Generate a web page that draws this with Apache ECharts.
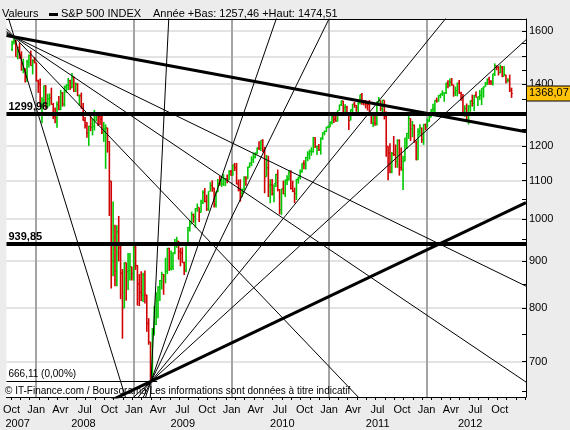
<!DOCTYPE html>
<html>
<head>
<meta charset="utf-8">
<script src="https://cdn.jsdelivr.net/npm/echarts@6/dist/echarts.min.js"></script>
<style>
  html, body { margin: 0; padding: 0; background: #ececec; }
  #chart { width: 570px; height: 430px; }
</style>
</head>
<body>
<div id="chart"></div>
<script>
// weekly bars [open, high, low, close], first week starts 2007-10-01
const firstWeek = [2007, 9, 1];
const ohlc2007 = [
  [1527, 1561, 1521, 1557], [1557, 1576, 1546, 1561], [1561, 1564, 1500, 1500], [1500, 1536, 1490, 1535],
  [1536, 1552, 1492, 1509], [1505, 1520, 1448, 1453], [1453, 1492, 1439, 1458], [1456, 1456, 1406, 1440],
  [1440, 1488, 1408, 1481], [1479, 1508, 1460, 1504], [1505, 1523, 1467, 1467], [1465, 1490, 1435, 1484],
  [1484, 1498, 1475, 1478], [1476, 1476, 1411, 1411]
];
const ohlc2008 = [
  [1411, 1416, 1370, 1401], [1401, 1420, 1325, 1325], [1325, 1355, 1270, 1330], [1330, 1396, 1322, 1395],
  [1395, 1396, 1317, 1331], [1331, 1367, 1320, 1349], [1349, 1368, 1325, 1353], [1353, 1388, 1330, 1331],
  [1331, 1336, 1283, 1293], [1293, 1321, 1270, 1288], [1288, 1341, 1256, 1330], [1330, 1359, 1312, 1315],
  [1316, 1380, 1312, 1370], [1370, 1373, 1324, 1332], [1332, 1395, 1324, 1390], [1390, 1400, 1370, 1397],
  [1397, 1422, 1380, 1413], [1413, 1416, 1380, 1388], [1388, 1440, 1386, 1425], [1425, 1427, 1373, 1375],
  [1375, 1406, 1373, 1400], [1400, 1404, 1359, 1360], [1360, 1365, 1327, 1360], [1360, 1371, 1317, 1318],
  [1318, 1336, 1278, 1278], [1278, 1290, 1253, 1262], [1262, 1274, 1225, 1239], [1239, 1262, 1200, 1260],
  [1260, 1292, 1245, 1257], [1257, 1284, 1232, 1260], [1260, 1313, 1247, 1296], [1296, 1304, 1276, 1298],
  [1298, 1300, 1261, 1292], [1292, 1300, 1264, 1283], [1283, 1304, 1236, 1242], [1242, 1274, 1212, 1252],
  [1252, 1266, 1133, 1255], [1255, 1256, 1180, 1213], [1213, 1214, 1007, 1099], [1099, 1099, 840, 899],
  [900, 1044, 866, 940], [940, 985, 845, 877], [877, 984, 845, 968], [968, 1007, 899, 930],
  [930, 937, 818, 873], [873, 882, 741, 800], [800, 897, 800, 896], [896, 896, 815, 876],
  [876, 918, 837, 879], [879, 918, 857, 887], [887, 887, 857, 872], [872, 935, 857, 931]
];
const ohlc2009 = [
  [931, 943, 880, 890], [890, 891, 805, 850], [850, 871, 804, 832], [832, 877, 814, 826],
  [826, 874, 812, 869], [869, 879, 809, 827], [827, 827, 754, 770], [770, 780, 730, 735],
  [735, 735, 666, 683], [683, 761, 672, 756], [756, 804, 747, 768], [768, 832, 767, 815],
  [815, 845, 780, 843], [843, 858, 814, 857], [857, 876, 838, 870], [870, 871, 827, 866],
  [866, 907, 851, 877], [877, 930, 871, 929], [929, 930, 878, 883], [883, 924, 879, 887],
  [887, 920, 880, 919], [919, 951, 915, 940], [940, 956, 930, 946], [946, 946, 903, 921],
  [921, 930, 888, 918], [918, 931, 896, 896], [896, 898, 869, 879], [879, 943, 875, 940],
  [940, 980, 940, 979], [979, 996, 969, 987], [987, 1018, 987, 1010], [1010, 1013, 990, 1005],
  [1005, 1027, 978, 1026], [1026, 1039, 1018, 1029], [1029, 1029, 992, 1016], [1016, 1049, 1016, 1042],
  [1042, 1074, 1038, 1068], [1068, 1080, 1042, 1044], [1044, 1062, 1020, 1025], [1025, 1071, 1020, 1071],
  [1071, 1096, 1071, 1087], [1087, 1101, 1070, 1080], [1080, 1081, 1029, 1036], [1036, 1071, 1029, 1069],
  [1069, 1105, 1069, 1093], [1093, 1113, 1086, 1091], [1091, 1112, 1083, 1091], [1091, 1119, 1086, 1106],
  [1106, 1107, 1085, 1106], [1106, 1117, 1093, 1102], [1102, 1129, 1102, 1126], [1126, 1130, 1114, 1115]
];
const ohlc2010 = [
  [1116, 1145, 1114, 1144], [1144, 1150, 1127, 1136], [1136, 1150, 1090, 1091], [1091, 1103, 1071, 1074],
  [1074, 1104, 1044, 1066], [1066, 1079, 1056, 1075], [1075, 1112, 1075, 1109], [1109, 1112, 1086, 1104],
  [1105, 1139, 1105, 1138], [1138, 1151, 1136, 1150], [1150, 1169, 1141, 1159], [1159, 1180, 1150, 1167],
  [1167, 1181, 1163, 1178], [1178, 1195, 1175, 1194], [1194, 1214, 1188, 1192], [1192, 1217, 1185, 1217],
  [1217, 1220, 1181, 1187], [1188, 1197, 1066, 1111], [1111, 1173, 1111, 1136], [1136, 1171, 1056, 1087],
  [1087, 1104, 1040, 1089], [1089, 1105, 1060, 1065], [1065, 1090, 1042, 1092], [1092, 1119, 1083, 1117],
  [1117, 1131, 1071, 1076], [1076, 1077, 1011, 1023], [1023, 1078, 1010, 1078], [1078, 1100, 1063, 1065],
  [1065, 1103, 1056, 1102], [1102, 1115, 1088, 1102], [1102, 1130, 1101, 1122], [1122, 1129, 1076, 1079],
  [1079, 1100, 1069, 1071], [1071, 1081, 1040, 1065], [1065, 1105, 1048, 1104], [1104, 1111, 1092, 1110],
  [1110, 1131, 1103, 1125], [1125, 1149, 1122, 1149], [1149, 1158, 1132, 1146], [1146, 1167, 1131, 1166],
  [1166, 1184, 1155, 1176], [1176, 1189, 1160, 1183], [1183, 1196, 1171, 1183], [1183, 1227, 1180, 1225],
  [1225, 1226, 1194, 1199], [1199, 1200, 1173, 1199], [1199, 1206, 1185, 1189], [1189, 1225, 1174, 1224],
  [1224, 1241, 1218, 1240], [1240, 1247, 1232, 1244], [1244, 1259, 1242, 1257], [1257, 1263, 1254, 1258]
];
const ohlc2011 = [
  [1258, 1276, 1257, 1272], [1272, 1293, 1266, 1293], [1293, 1296, 1271, 1283], [1283, 1302, 1275, 1276],
  [1276, 1311, 1276, 1311], [1311, 1330, 1311, 1330], [1330, 1344, 1326, 1343], [1343, 1343, 1294, 1320],
  [1320, 1332, 1302, 1321], [1321, 1327, 1294, 1304], [1304, 1304, 1249, 1279], [1279, 1315, 1279, 1313],
  [1313, 1333, 1302, 1332], [1332, 1340, 1320, 1328], [1328, 1329, 1307, 1320], [1320, 1338, 1295, 1337],
  [1337, 1364, 1331, 1364], [1364, 1370, 1330, 1340], [1340, 1346, 1328, 1338], [1338, 1346, 1318, 1333],
  [1333, 1334, 1311, 1331], [1331, 1346, 1296, 1300], [1300, 1304, 1268, 1271], [1271, 1295, 1258, 1271],
  [1271, 1298, 1262, 1268], [1268, 1341, 1263, 1340], [1340, 1356, 1333, 1344], [1344, 1344, 1309, 1316],
  [1316, 1347, 1295, 1345], [1345, 1345, 1282, 1292], [1292, 1308, 1168, 1199], [1199, 1199, 1101, 1179],
  [1179, 1208, 1121, 1124], [1124, 1182, 1121, 1177], [1177, 1230, 1170, 1174], [1174, 1204, 1136, 1154],
  [1154, 1220, 1136, 1216], [1216, 1220, 1114, 1136], [1136, 1195, 1128, 1131], [1131, 1171, 1075, 1155],
  [1155, 1224, 1155, 1224], [1224, 1239, 1191, 1238], [1238, 1293, 1221, 1285], [1285, 1285, 1215, 1253],
  [1253, 1277, 1226, 1263], [1263, 1266, 1209, 1216], [1216, 1216, 1158, 1159], [1159, 1254, 1159, 1244],
  [1244, 1267, 1231, 1255], [1255, 1256, 1209, 1219], [1219, 1268, 1203, 1265], [1265, 1269, 1248, 1258]
];
const ohlc2012 = [
  [1258, 1285, 1258, 1278], [1278, 1297, 1274, 1289], [1289, 1315, 1289, 1315], [1315, 1333, 1306, 1316],
  [1316, 1345, 1300, 1345], [1345, 1354, 1337, 1342], [1342, 1363, 1340, 1361], [1361, 1368, 1352, 1366],
  [1366, 1379, 1360, 1370], [1370, 1371, 1340, 1370], [1370, 1405, 1366, 1404], [1404, 1414, 1386, 1397],
  [1397, 1420, 1391, 1408], [1408, 1422, 1395, 1398], [1398, 1398, 1357, 1370], [1370, 1392, 1359, 1378],
  [1378, 1406, 1358, 1403], [1403, 1415, 1367, 1369], [1369, 1374, 1343, 1353], [1353, 1366, 1292, 1295],
  [1295, 1328, 1291, 1317], [1317, 1334, 1278, 1278], [1278, 1329, 1266, 1325], [1325, 1345, 1307, 1343],
  [1343, 1364, 1324, 1335], [1335, 1363, 1309, 1362], [1362, 1375, 1354, 1354], [1354, 1357, 1326, 1357],
  [1357, 1380, 1346, 1362], [1362, 1386, 1329, 1386], [1386, 1392, 1354, 1391], [1391, 1407, 1391, 1405],
  [1405, 1420, 1397, 1418], [1418, 1426, 1398, 1411], [1411, 1414, 1397, 1407], [1407, 1437, 1396, 1438],
  [1438, 1475, 1429, 1466], [1466, 1467, 1450, 1460], [1460, 1465, 1431, 1441], [1441, 1470, 1439, 1461],
  [1461, 1465, 1425, 1428], [1428, 1465, 1428, 1433], [1433, 1434, 1403, 1411], [1411, 1421, 1406, 1414],
  [1414, 1434, 1373, 1380], [1380, 1388, 1353, 1368.07]
];

// pivots and fan lines (second point each line passes through)
const highPivot = ['2007-10-11', 1576.09];
const lowPivot = ['2009-03-06', 666.11];
const highThickTo = ['2012-12-31', 1244];
const highFanTo = [['2012-12-31', 847], ['2012-12-31', 667], ['2010-12-14', 700], ['2008-10-20', 700]];
const lowThickTo = ['2012-12-31', 1039];
const lowFanTo = [['2012-12-31', 1558], ['2012-02-04', 1600], ['2010-12-10', 1600], ['2010-06-02', 1600], ['2009-05-09', 1600]];

const levelValues = [1299.96, 939.85];
const levelLabels = ['1299,96', '939,85'];
const lowLevel = 666.11;
const lowLevelEnd = '2009-03-29';
const lastPrice = 1368.07;
const lastLabel = '1368,07';

// axis ticks and labels
const xRange = ['2007-09-12', '2013-01-07'];
const yRange = [640.5, 1648];
const quarterLabels = { 0: 'Jan', 3: 'Avr', 6: 'Jul', 9: 'Oct' };
const quarterStarts = ['2007-10-01', '2008-01-01', '2008-04-01', '2008-07-01', '2008-10-01', '2009-01-01', '2009-04-01',
  '2009-07-01', '2009-10-01', '2010-01-01', '2010-04-01', '2010-07-01', '2010-10-01', '2011-01-01', '2011-04-01',
  '2011-07-01', '2011-10-01', '2012-01-01', '2012-04-01', '2012-07-01', '2012-10-01'];
const yearStarts = ['2008-01-01', '2009-01-01', '2010-01-01', '2011-01-01', '2012-01-01'];
const yearLabelDates = ['2007-10-24', '2008-06-26', '2009-07-03', '2010-07-10', '2011-07-02', '2012-06-12'];
const yLabelValues = [700, 800, 900, 1000, 1100, 1200, 1400, 1600];
const yGridValues = [700, 800, 900, 1000, 1100, 1200, 1300, 1400, 1500, 1600];
const yMinorValues = [650, 700, 750, 800, 850, 900, 950, 1000, 1050, 1100, 1150, 1200, 1250, 1300, 1350, 1400, 1450, 1500, 1550, 1600];

const t = s => +new Date(s + 'T00:00:00');
const tMin = t(xRange[0]), tMax = t(xRange[1]);

// build bar rows with week dates
const allWeeks = [].concat(ohlc2007, ohlc2008, ohlc2009, ohlc2010, ohlc2011, ohlc2012);
const barData = allWeeks.map((r, i) => {
  const d = +new Date(firstWeek[0], firstWeek[1], firstWeek[2] + 7 * i + 2);
  return [d, r[0], r[1], r[2], r[3]];
});

// minor x ticks, one every 5 weeks
const xTicks = [];
for (let d = t('2007-09-28'); d < tMax; d += 35 * 86400000) xTicks.push(d);

// a straight line on the log scale through two points, run across the whole x range
function fanLine(p, q) {
  const t1 = t(p[0]), t2 = t(q[0]);
  const l1 = Math.log(p[1]), l2 = Math.log(q[1]);
  const at = tt => Math.exp(l1 + (l2 - l1) * (tt - t1) / (t2 - t1));
  return [[tMin, at(tMin)], [tMax, at(tMax)]];
}

function lineSeries(data, width) {
  return {
    type: 'line',
    data: data,
    symbol: 'none',
    silent: true,
    clip: true,
    z: 5,
    lineStyle: { color: '#000', width: width }
  };
}

const font = 'Liberation Sans';

const fanSeries = [];
fanSeries.push(lineSeries(fanLine(highPivot, highThickTo), 3));
highFanTo.forEach(q => fanSeries.push(lineSeries(fanLine(highPivot, q), 1)));
fanSeries.push(lineSeries(fanLine(lowPivot, lowThickTo), 3));
lowFanTo.forEach(q => fanSeries.push(lineSeries(fanLine(lowPivot, q), 1)));

// horizontal levels as markLines on the first fan series
fanSeries[0].markLine = {
  silent: true,
  symbol: 'none',
  animation: false,
  data: [
    ...levelValues.map((v, i) => ({
      yAxis: v,
      lineStyle: { color: '#000', width: 4, type: 'solid' },
      label: { show: true, position: 'insideStartTop', distance: [2, 1], formatter: levelLabels[i],
        color: '#000', fontSize: 11, fontWeight: 'bold', fontFamily: font }
    })),
    [
      { coord: [tMin, lowLevel], lineStyle: { color: '#000', width: 1, type: 'solid' },
        label: { show: true, position: 'insideStartTop', distance: [2, 2], formatter: '666,11 (0,00%)',
          color: '#000', fontSize: 10, fontFamily: font } },
      { coord: [t(lowLevelEnd), lowLevel] }
    ]
  ]
};

// last price tag, on its own unclipped series so it can sit over the axis
const lastSeries = {
  type: 'line',
  data: [[tMax, lastPrice]],
  symbol: 'none',
  silent: true,
  clip: false,
  z: 6,
  markLine: {
    silent: true,
    symbol: 'none',
    animation: false,
    lineStyle: { color: 'rgba(0,0,0,0)', width: 0, type: 'solid' },
    label: { show: true, position: 'end', distance: 1, formatter: lastLabel, color: '#000',
      fontSize: 11, fontFamily: font, backgroundColor: '#FFC20A',
      borderColor: '#000', borderWidth: 1, padding: [2, 2, 1, 2] },
    data: [{ yAxis: lastPrice }]
  }
};

const option = {
  backgroundColor: '#ececec',
  animation: false,
  grid: { left: 3, right: 44, top: 19, bottom: 33, show: true, backgroundColor: '#fff', borderWidth: 0 },
  xAxis: [
    {
      type: 'value',
      min: tMin,
      max: tMax,
      position: 'bottom',
      axisLine: { lineStyle: { color: '#000', width: 1 } },
      axisTick: { show: true, length: 3, customValues: xTicks, lineStyle: { color: '#000' } },
      axisLabel: {
        customValues: quarterStarts.map(t),
        formatter: v => quarterLabels[new Date(v).getMonth()],
        color: '#000', fontSize: 11, fontFamily: font, margin: 7
      },
      splitLine: { show: false }
    },
    {
      // year labels row + yearly vertical grid
      type: 'value',
      min: tMin,
      max: tMax,
      position: 'bottom',
      offset: 14,
      axisLine: { show: false },
      axisTick: { show: false, customValues: yearStarts.map(t) },
      axisLabel: {
        customValues: yearLabelDates.map(t),
        formatter: v => String(new Date(v).getFullYear()),
        color: '#000', fontSize: 11, fontFamily: font, margin: 7
      },
      splitLine: { show: true, lineStyle: { color: '#a4a4a4', width: 2 } }
    },
    {
      type: 'value',
      min: tMin,
      max: tMax,
      position: 'top',
      axisLine: { lineStyle: { color: '#000', width: 1 } },
      axisTick: { show: false },
      axisLabel: { show: false },
      splitLine: { show: false }
    }
  ],
  yAxis: [
    {
      type: 'log',
      logBase: 10,
      min: yRange[0],
      max: yRange[1],
      position: 'right',
      axisLine: { show: true, lineStyle: { color: '#000', width: 1 } },
      axisTick: { show: true, inside: true, length: 4, customValues: yGridValues, lineStyle: { color: '#000' } },
      axisLabel: {
        customValues: yLabelValues,
        formatter: v => String(Math.round(v)),
        color: '#000', fontSize: 11, fontFamily: font, margin: 3
      },
      splitLine: { show: true, lineStyle: { color: '#dadada', width: 1.5 } }
    },
    {
      type: 'log',
      logBase: 10,
      min: yRange[0],
      max: yRange[1],
      position: 'right',
      axisLine: { show: false },
      axisTick: { show: true, inside: true, length: 4, customValues: yMinorValues, lineStyle: { color: '#000' } },
      axisLabel: { show: false },
      splitLine: { show: false }
    }
  ],
  series: [
    {
      type: 'custom',
      name: 'S&P 500 INDEX',
      data: barData,
      encode: { x: 0, y: [1, 2, 3, 4] },
      clip: true,
      z: 3,
      renderItem: (params, api) => {
        const x = api.value(0);
        const hi = api.coord([x, api.value(2)]);
        const lo = api.coord([x, api.value(3)]);
        const op = api.coord([x, api.value(1)]);
        const cl = api.coord([x, api.value(4)]);
        const color = api.value(4) >= api.value(1) ? '#00c800' : '#d00000';
        return {
          type: 'group',
          children: [
            { type: 'line', shape: { x1: hi[0], y1: hi[1], x2: lo[0], y2: lo[1] }, style: { stroke: color, lineWidth: 1.6 } },
            { type: 'line', shape: { x1: op[0] - 1.2, y1: op[1], x2: op[0], y2: op[1] }, style: { stroke: color, lineWidth: 1 } },
            { type: 'line', shape: { x1: cl[0], y1: cl[1], x2: cl[0] + 1.2, y2: cl[1] }, style: { stroke: color, lineWidth: 1 } }
          ]
        };
      }
    },
    ...fanSeries,
    lastSeries
  ],
  graphic: [
    { type: 'text', x: 2, y: 8, style: { text: 'Valeurs', fill: '#000', font: '11px "Liberation Sans"' } },
    { type: 'rect', shape: { x: 49, y: 13, width: 9, height: 3 }, style: { fill: '#000' } },
    { type: 'text', x: 61, y: 8, style: { text: 'S&P 500 INDEX', fill: '#000', font: '11px "Liberation Sans"' } },
    { type: 'text', x: 153, y: 8, style: { text: 'Année +Bas: 1257,46 +Haut: 1474,51', fill: '#000', font: '11px "Liberation Sans"' } },
    { type: 'text', x: 5, y: 386, z: 10, style: { text: '© IT-Finance.com / Boursorama Les informations sont données à titre indicatif', fill: '#000', font: '10px "Liberation Sans"' } }
  ]
};

const chart = echarts.init(document.getElementById('chart'));
chart.setOption(option);
</script>
</body>
</html>
